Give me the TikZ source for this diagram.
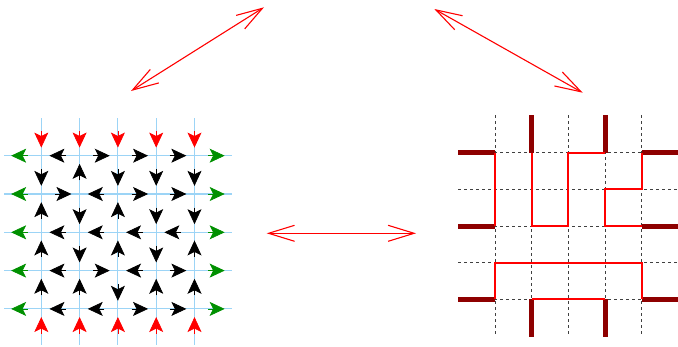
\documentclass[tikz,border=0pt]{standalone}
\usetikzlibrary{arrows.meta,calc}
\definecolor{gridblue}{HTML}{9CD4F6}
\definecolor{bgreen}{HTML}{009000}
\definecolor{wallred}{HTML}{8E0000}
\tikzset{
  gridline/.style={draw=gridblue, line width=1.1pt},
  icearrow/.style={line width=0.7pt, -{Stealth[length=15pt,width=14pt,inset=3.5pt]}},
  latline/.style={draw=black!75, line width=0.65pt, dash pattern=on 3pt off 3pt},
  wall/.style={draw=wallred, line width=5pt},
  route/.style={draw=red, line width=2pt, line join=miter},
  bigarrow/.style={draw=red, line width=1.1pt,
    {Straight Barb[length=26pt,width=16pt]}-{Straight Barb[length=26pt,width=16pt]}}
}
\begin{document}
\begin{tikzpicture}[x=1pt,y=-1pt]
\useasboundingbox (0,0) rectangle (678,346);

% ---------- six-vertex configuration ----------
\def\gx{41.3}\def\gy{155.7}\def\gs{38.3}
\foreach \i in {1,...,5}{
  \pgfmathsetmacro\cx{\gx+\gs*(\i-1)}
  \pgfmathsetmacro\cy{\gy+\gs*(\i-1)}
  \draw[gridline] (\cx,118) -- (\cx,345);
  \draw[gridline] (4,\cy) -- (232,\cy);
}
% horizontal edges, one list per row: +1 points right, -1 points left
\foreach \row [count=\j from 1] in
  {{-1,-1,1,1,1,1},{-1,1,-1,1,1,1},{-1,-1,-1,-1,-1,1},{-1,-1,1,-1,1,1},{-1,-1,-1,1,1,1}}{
  \foreach \d [count=\k from 0] in \row {
    \pgfmathsetmacro\mx{\gx+\gs*(\k-0.5)}
    \pgfmathsetmacro\my{\gy+\gs*(\j-1)}
    \edef\acol{\ifnum\k=0 bgreen\else\ifnum\k=5 bgreen\else black\fi\fi}
    \draw[icearrow,\acol] ({\mx-5.5*(\d)},\my) -- ({\mx+11*(\d)},\my);
  }
}
% vertical edges, one list per column: +1 points down, -1 points up
\foreach \col [count=\i from 1] in
  {{1,1,-1,-1,-1,-1},{1,-1,1,1,-1,-1},{1,1,-1,-1,1,-1},{1,1,1,1,-1,-1},{1,1,1,-1,-1,-1}}{
  \foreach \d [count=\k from 0] in \col {
    \pgfmathsetmacro\mx{\gx+\gs*(\i-1)}
    \pgfmathsetmacro\my{\gy+\gs*(\k-0.5)}
    \edef\acol{\ifnum\k=0 red\else\ifnum\k=5 red\else black\fi\fi}
    \draw[icearrow,\acol] (\mx,{\my-5.5*(\d)}) -- (\mx,{\my+11*(\d)});
  }
}

% ---------- path configuration ----------
\def\px{495}\def\py{152.7}\def\ps{36.67}
\foreach \i in {1,...,5}{
  \foreach \j in {1,...,5}{
    \coordinate (p-\i-\j) at ({\px+\ps*(\i-1)},{\py+\ps*(\j-1)});
  }
}
\foreach \i in {1,...,5}{
  \draw[latline] ($(p-\i-1)+(0,-37.7)$) -- ($(p-\i-5)+(0,37.4)$);
  \draw[latline] ($(p-1-\i)+(-37,0)$) -- ($(p-5-\i)+(36.3,0)$);
}
% boundary stubs
\foreach \j in {1,3,5}{
  \draw[wall] (p-1-\j) -- ++(-37,0);
  \draw[wall] (p-5-\j) -- ++(36.3,0);
}
\foreach \i in {2,4}{
  \draw[wall] (p-\i-1) -- ++(0,-37.7);
  \draw[wall] (p-\i-5) -- ++(0,37.4);
}
% routes
\draw[route] (p-1-1) -- (p-1-3);
\draw[route] (p-2-1) -- (p-2-3) -- (p-3-3) -- (p-3-1) -- (p-4-1);
\draw[route] (p-5-1) -- (p-5-2) -- (p-4-2) -- (p-4-3) -- (p-5-3);
\draw[route] (p-1-5) -- (p-1-4) -- (p-5-4) -- (p-5-5);
\draw[route] (p-2-5) -- (p-4-5);

% ---------- correspondences ----------
\coordinate (ul) at (131,91);
\coordinate (tl) at (264,7.3);
\coordinate (tr) at (434.3,9);
\coordinate (ur) at (582.7,92.7);
\coordinate (ml) at (266.7,233.3);
\coordinate (mr) at (416,233.3);
\draw[bigarrow] (ul) -- (tl);
\draw[bigarrow] (tr) -- (ur);
\draw[bigarrow] (ml) -- (mr);
\end{tikzpicture}
\end{document}
